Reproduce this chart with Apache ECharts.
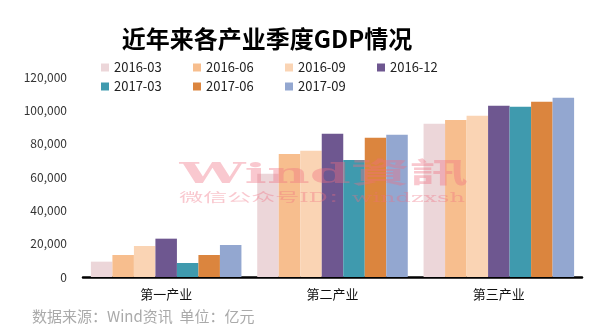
<!DOCTYPE html>
<html>
<head>
<meta charset="utf-8">
<script src="https://cdn.jsdelivr.net/npm/echarts@6/dist/echarts.min.js"></script>
<style>
  html, body { margin: 0; padding: 0; background: #fff; }
  #chart { width: 596px; height: 336px; }
</style>
</head>
<body>
<div id="chart"></div>
<script>
// Quarterly GDP by industry (亿元)
const categories = ['第一产业', '第二产业', '第三产业'];
const quarters = ['2016-03', '2016-06', '2016-09', '2016-12', '2017-03', '2017-06', '2017-09'];
const q2016_03 = [9200, 62000, 92000];
const q2016_06 = [13200, 73800, 94200];
const q2016_09 = [18600, 75800, 96800];
const q2016_12 = [23000, 86000, 102800];
const q2017_03 = [8400, 70200, 102200];
const q2017_06 = [13200, 83600, 105200];
const q2017_09 = [19200, 85400, 107600];
const yTicks = [0, 20000, 40000, 60000, 80000, 100000, 120000];

const seriesValues = [q2016_03, q2016_06, q2016_09, q2016_12, q2017_03, q2017_06, q2017_09];
const colors = ['#ECD6D9', '#F7BE8E', '#FAD4B4', '#6E5790', '#3F9AAE', '#DB853E', '#93A7D0'];

const font = '"Noto Sans CJK SC", "Noto Sans", sans-serif';

// legend laid out as a 4-column grid, one legend component per entry
const legendCols = [96, 188, 280, 372];
const legendRows = [56, 75];
const legends = quarters.map((name, i) => ({
  left: legendCols[i % 4],
  top: legendRows[Math.floor(i / 4)],
  data: [name],
  itemWidth: 8,
  itemHeight: 8,
  itemGap: 5,
  icon: 'rect',
  selectedMode: false,
  textStyle: { fontFamily: font, fontSize: 13, color: '#222' }
}));

const chart = echarts.init(document.getElementById('chart'), null, { renderer: 'canvas' });
chart.setOption({
  animation: false,
  backgroundColor: '#fff',
  color: colors,
  textStyle: { fontFamily: font },
  grid: { left: 83, right: 14, top: 77, bottom: 59, containLabel: false },
  legend: legends,
  xAxis: {
    type: 'category',
    data: categories,
    axisLine: { show: true, lineStyle: { color: '#000', width: 2.5 } },
    axisTick: { show: false },
    axisLabel: { color: '#111', fontSize: 13, margin: 11, fontFamily: font }
  },
  yAxis: {
    type: 'value',
    min: yTicks[0],
    max: yTicks[yTicks.length - 1],
    interval: yTicks[1] - yTicks[0],
    splitLine: { show: false },
    axisLine: { show: false },
    axisTick: { show: false },
    axisLabel: {
      color: '#333', fontSize: 12, margin: 16, fontFamily: font,
      formatter: v => v.toLocaleString('en-US')
    }
  },
  series: quarters.map((name, i) => ({
    name: name,
    type: 'bar',
    data: seriesValues[i],
    barGap: '0%',
    barCategoryGap: '9.5%',
    itemStyle: { color: colors[i] }
  })),
  graphic: [
    {
      type: 'text', x: 267, y: 39, z: 100,
      style: {
        text: '近年来各产业季度GDP情况', font: 'bold 24px ' + font, fill: '#000',
        textAlign: 'center', textVerticalAlign: 'middle'
      }
    },
    {
      type: 'text', x: 32, y: 316, z: 100,
      style: {
        text: '数据来源：Wind资讯  单位：亿元', font: '15px ' + font, fill: '#aaa',
        textAlign: 'left', textVerticalAlign: 'middle'
      }
    },
    {
      type: 'text', x: 324, y: 176, scaleX: 2.1, z: 100,
      style: {
        text: 'Wind資訊', font: 'bold 28px "DejaVu Serif", "Noto Sans CJK TC", serif',
        fill: 'rgba(240,110,130,0.38)', textAlign: 'center', textVerticalAlign: 'middle'
      }
    },
    {
      type: 'text', x: 322, y: 199, scaleX: 2.0, z: 100,
      style: {
        text: '微信公众号ID：windzxsh', font: '12px "DejaVu Serif", "Noto Sans CJK SC", serif',
        fill: 'rgba(240,110,130,0.38)', textAlign: 'center', textVerticalAlign: 'middle'
      }
    }
  ]
});
</script>
</body>
</html>
